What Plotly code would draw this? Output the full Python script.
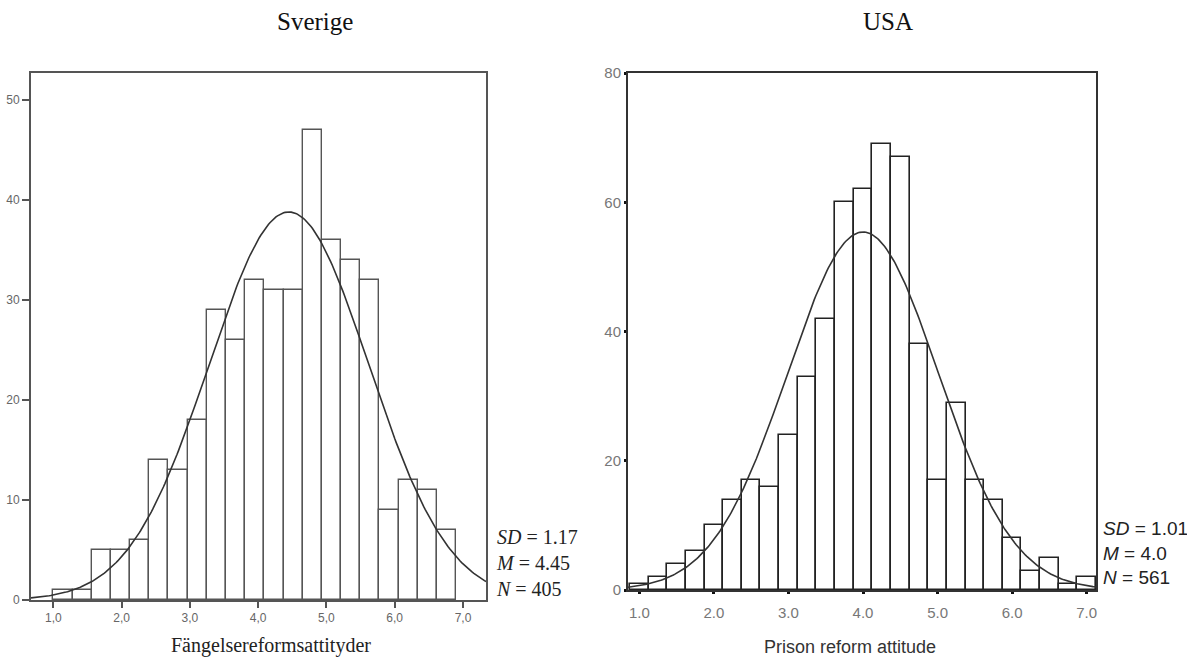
import numpy as np
import plotly.graph_objects as go

# ---------------- data ----------------
# Sverige (left panel)
se_bin_start = 1.0
se_bin_width = 0.281
se_counts = [1, 1, 5, 5, 6, 14, 13, 18, 29, 26, 32, 31, 31, 47, 36, 34, 32, 9, 12, 11, 7]
se_sd, se_mean, se_n = 1.17, 4.45, 405
se_xticks = [1, 2, 3, 4, 5, 6, 7]
se_xticklabels = ["1,0", "2,0", "3,0", "4,0", "5,0", "6,0", "7,0"]
se_yticks = [0, 10, 20, 30, 40, 50]

# USA (right panel)
us_bin_start = 0.875
us_bin_width = 0.25
us_counts = [1, 2, 4, 6, 10, 14, 17, 16, 24, 33, 42, 60, 62, 69, 67, 38, 17, 29, 17, 14, 8, 3, 5, 1, 2]
us_sd, us_mean, us_n = 1.01, 4.0, 561
us_xticks = [1, 2, 3, 4, 5, 6, 7]
us_xticklabels = ["1.0", "2.0", "3.0", "4.0", "5.0", "6.0", "7.0"]
us_yticks = [0, 20, 40, 60, 80]

W, H = 1187, 662
SE_XR = [0.673, 7.337]
SE_YR = [0, 52.7]
US_XR = [0.848, 7.125]
US_YR = [0, 80]


def px_x(p):
    return p / W


def px_y(p):
    return (H - p) / H


def normal_curve(mean, sd, n, width, xr, num=300):
    xs = np.linspace(xr[0], xr[1], num)
    ys = n * width / (sd * np.sqrt(2 * np.pi)) * np.exp(-0.5 * ((xs - mean) / sd) ** 2)
    return xs, ys


fig = go.Figure()

# Left bars
se_centers = [se_bin_start + se_bin_width * (i + 0.5) for i in range(len(se_counts))]
fig.add_trace(go.Bar(
    x=se_centers, y=se_counts, width=se_bin_width,
    marker=dict(color="white", line=dict(color="#555555", width=1.4)),
    xaxis="x", yaxis="y", showlegend=False, hoverinfo="skip"))
cx, cy = normal_curve(se_mean, se_sd, se_n, se_bin_width, SE_XR)
fig.add_trace(go.Scatter(x=cx, y=cy, mode="lines",
                         line=dict(color="#333333", width=1.6),
                         xaxis="x", yaxis="y", showlegend=False, hoverinfo="skip"))

# Right bars
us_centers = [us_bin_start + us_bin_width * (i + 0.5) for i in range(len(us_counts))]
fig.add_trace(go.Bar(
    x=us_centers, y=us_counts, width=us_bin_width,
    marker=dict(color="white", line=dict(color="#222222", width=1.6)),
    xaxis="x2", yaxis="y2", showlegend=False, hoverinfo="skip"))
cx2, cy2 = normal_curve(us_mean, us_sd, us_n, us_bin_width, US_XR)
fig.add_trace(go.Scatter(x=cx2, y=cy2, mode="lines",
                         line=dict(color="#333333", width=1.6),
                         xaxis="x2", yaxis="y2", showlegend=False, hoverinfo="skip"))

serif = "Liberation Serif, Times New Roman, serif"
sans = "Liberation Sans, Arial, sans-serif"

fig.update_layout(
    width=W, height=H,
    margin=dict(l=0, r=0, t=0, b=0),
    paper_bgcolor="white", plot_bgcolor="white",
    bargap=0,
    xaxis=dict(domain=[px_x(31), px_x(486)], range=SE_XR, anchor="y",
               showgrid=False, zeroline=False, automargin=False,
               showline=True, mirror=True, linecolor="#555555", linewidth=2,
               ticks="outside", ticklen=6, tickwidth=1.5, tickcolor="#555555",
               tickvals=se_xticks, ticktext=se_xticklabels,
               tickfont=dict(family=sans, size=12, color="#666666")),
    yaxis=dict(domain=[px_y(600), px_y(73)], range=SE_YR, anchor="x",
               showgrid=False, zeroline=False, automargin=False,
               showline=True, mirror=True, linecolor="#555555", linewidth=2,
               ticks="outside", ticklen=7, tickwidth=1.5, tickcolor="#555555",
               tickvals=se_yticks,
               tickfont=dict(family=sans, size=12, color="#666666")),
    xaxis2=dict(domain=[px_x(628), px_x(1096)], range=US_XR, anchor="y2",
                showgrid=False, zeroline=False, automargin=False,
                showline=True, mirror=True, linecolor="#333333", linewidth=2,
                ticks="outside", ticklen=2, tickwidth=3, tickcolor="#111111",
                tickvals=us_xticks, ticktext=us_xticklabels,
                ticklabelstandoff=6,
                tickfont=dict(family=sans, size=15, color="#777777")),
    yaxis2=dict(domain=[px_y(590), px_y(73)], range=US_YR, anchor="x2",
                showgrid=False, zeroline=False, automargin=False,
                showline=True, mirror=True, linecolor="#333333", linewidth=2,
                ticks="outside", ticklen=2, tickwidth=3, tickcolor="#111111",
                tickvals=us_yticks,
                tickfont=dict(family=sans, size=15, color="#777777")),
)

annotations = [
    dict(text="Sverige", x=px_x(315), y=px_y(21), font=dict(family=serif, size=25, color="#111111")),
    dict(text="USA", x=px_x(888), y=px_y(21), font=dict(family=serif, size=25, color="#111111")),
    dict(text="Fängelsereformsattityder", x=px_x(271), y=px_y(645),
         font=dict(family=serif, size=20, color="#222222")),
    dict(text="Prison reform attitude", x=px_x(850), y=px_y(647),
         font=dict(family=sans, size=18, color="#333333")),
]
for a in annotations:
    a.update(xref="paper", yref="paper", showarrow=False, xanchor="center", yanchor="middle")

annotations.append(dict(
    text=f"<i>SD</i> = {se_sd:.2f}<br><i>M</i> = {se_mean:.2f}<br><i>N</i> = {se_n}",
    x=px_x(494), y=px_y(563), xref="paper", yref="paper", showarrow=False,
    xanchor="left", yanchor="middle", align="left",
    font=dict(family=serif, size=20, color="#222222")))
annotations.append(dict(
    text=f"<i>SD</i> = {us_sd:.2f}<br><i>M</i> = {us_mean:.1f}<br><i>N</i> = {us_n}",
    x=px_x(1101), y=px_y(553), xref="paper", yref="paper", showarrow=False,
    xanchor="left", yanchor="middle", align="left",
    font=dict(family=sans, size=19, color="#222222")))

fig.update_layout(annotations=annotations)

fig.write_html(
    "out.html",
    config={"responsive": False, "displayModeBar": False},
    post_script="document.body.style.margin='0';document.body.style.overflow='hidden';",
)
